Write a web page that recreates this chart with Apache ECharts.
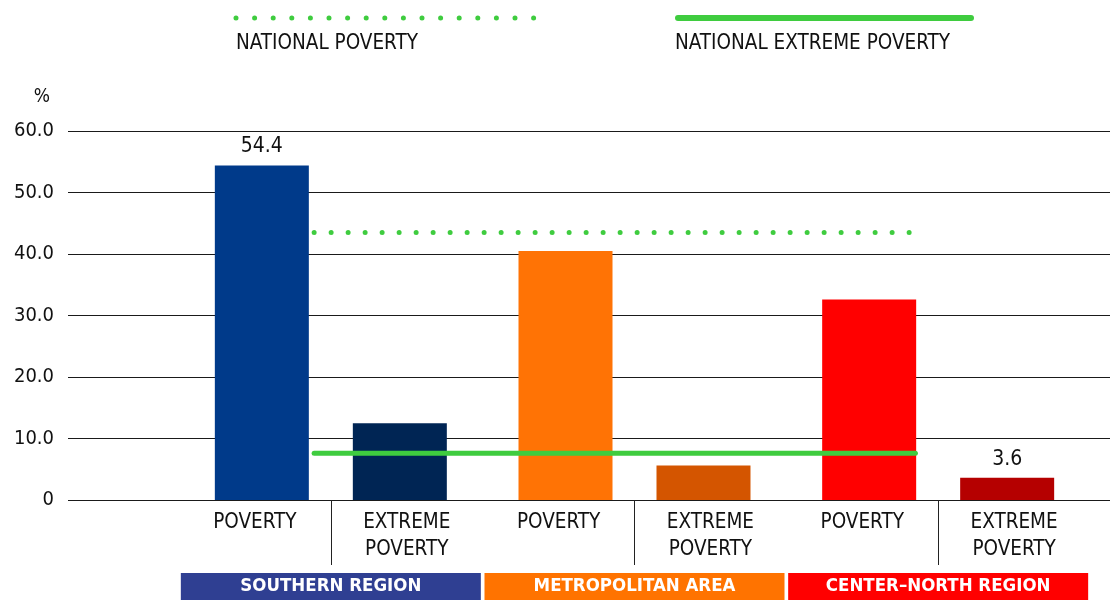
<!DOCTYPE html>
<html>
<head>
<meta charset="utf-8">
<script src="https://cdn.jsdelivr.net/npm/echarts@6/dist/echarts.min.js"></script>
<style>
html,body{margin:0;padding:0;background:#fff;}
#chart{width:1110px;height:600px;}
</style>
</head>
<body>
<div id="chart"></div>
<script>
// ---- data ----
const regions = ['SOUTHERN REGION', 'METROPOLITAN AREA', 'CENTER\u2013NORTH REGION'];
const subCategories = ['POVERTY', 'EXTREME\nPOVERTY', 'POVERTY', 'EXTREME\nPOVERTY', 'POVERTY', 'EXTREME\nPOVERTY'];
const povertyValues = [54.4, 40.5, 32.6];
const extremeValues = [12.5, 5.6, 3.6];
const povertyLabels = ['54.4', '', ''];
const extremeLabels = ['', '', '3.6'];
const povertyColors = ['#003A8A', '#FF7305', '#FF0000'];
const extremeColors = ['#002554', '#D45500', '#B50000'];
const regionColors = ['#2F3F92', '#FF7300', '#FF0000'];
const nationalPoverty = 43.5;
const nationalExtreme = 7.6;
// line spans in sub-category index units (right edge of 1st bar to right edge of 5th bar)
const lineSpan = [0.39, 4.35];
const legendNames = ['NATIONAL POVERTY', 'NATIONAL EXTREME POVERTY'];

const FONT = "'Liberation Sans Narrow', 'DejaVu Sans Condensed', 'Roboto Condensed', sans-serif";
const GREEN = '#3FCC3F';
const TXT = '#111';

const chart = echarts.init(document.getElementById('chart'));

const rich = {};
regions.forEach((r, i) => {
  rich['r' + i] = {
    backgroundColor: regionColors[i], color: '#fff', width: 300, height: 27, lineHeight: 27,
    align: 'center', fontSize: 18.5, fontFamily: FONT, fontWeight: 'bold'
  };
});

function barSeries(vals, colors, labels) {
  return {
    type: 'bar', xAxisIndex: 2, yAxisIndex: 1, barWidth: 94, barGap: '46.8%',
    data: vals.map((v, i) => ({
      value: v,
      itemStyle: { color: colors[i] },
      label: { show: labels[i] !== '', formatter: labels[i] }
    })),
    label: { position: 'top', distance: 8, fontFamily: FONT, fontSize: 21, color: TXT }
  };
}

const option = {
  animation: false,
  backgroundColor: '#fff',
  grid: [
    { left: 68, right: 0, top: 131, bottom: 100 },
    { left: 179, right: 20, top: 131, bottom: 100 }
  ],
  xAxis: [
    { gridIndex: 0, type: 'value', show: false, min: 0, max: 1 },
    {
      gridIndex: 1, type: 'category', data: subCategories,
      axisLine: { show: false }, axisTick: { show: false },
      axisLabel: { fontFamily: FONT, fontSize: 20.5, color: TXT, lineHeight: 27, margin: 9, interval: 0 }
    },
    {
      gridIndex: 1, type: 'category', data: regions, position: 'bottom',
      axisLine: { show: false },
      axisTick: { show: true, alignWithLabel: true, length: 65, lineStyle: { color: '#222', width: 1 } },
      axisLabel: {
        interval: 0, margin: 73,
        formatter: (v, i) => '{r' + i + '|' + v + '}',
        rich: rich
      }
    },
    { gridIndex: 1, type: 'value', show: false, min: -0.5, max: 5.5 }
  ],
  yAxis: [
    {
      gridIndex: 0, type: 'value', min: 0, max: 60, interval: 10,
      name: '%', nameLocation: 'end', nameGap: 24,
      nameTextStyle: { fontFamily: FONT, fontSize: 19, color: TXT, align: 'right', padding: [0, 18, 0, 0] },
      axisLine: { show: false }, axisTick: { show: false },
      axisLabel: {
        fontFamily: FONT, fontSize: 20, color: TXT, margin: 14,
        formatter: (v) => v === 0 ? '0' : v.toFixed(1)
      },
      splitLine: { show: true, lineStyle: { color: '#1a1a1a', width: 1.2 } }
    },
    { gridIndex: 1, type: 'value', min: 0, max: 60, interval: 10, show: false, splitLine: { show: false } }
  ],
  graphic: [
    { type: 'line', shape: { x1: 236, y1: 18, x2: 537, y2: 18 },
      style: { stroke: GREEN, lineWidth: 5, lineCap: 'round', lineDash: [0, 18.6] } },
    { type: 'text', left: 236, top: 33, style: { text: legendNames[0], fontFamily: FONT, fontSize: 20.5, fill: TXT } },
    { type: 'line', shape: { x1: 678, y1: 18, x2: 971, y2: 18 },
      style: { stroke: GREEN, lineWidth: 6, lineCap: 'round' } },
    { type: 'text', left: 675, top: 33, style: { text: legendNames[1], fontFamily: FONT, fontSize: 20.5, fill: TXT } }
  ],
  series: [
    barSeries(povertyValues, povertyColors, povertyLabels),
    barSeries(extremeValues, extremeColors, extremeLabels),
    {
      type: 'line', xAxisIndex: 3, yAxisIndex: 1, symbol: 'none', silent: true,
      data: [[lineSpan[0], nationalPoverty], [lineSpan[1], nationalPoverty]],
      lineStyle: { color: GREEN, width: 5, type: [0, 17], cap: 'round' }
    },
    {
      type: 'line', xAxisIndex: 3, yAxisIndex: 1, symbol: 'none', silent: true,
      data: [[lineSpan[0], nationalExtreme], [lineSpan[1], nationalExtreme]],
      lineStyle: { color: GREEN, width: 5, cap: 'round' }
    }
  ]
};
chart.setOption(option);
</script>
</body>
</html>
